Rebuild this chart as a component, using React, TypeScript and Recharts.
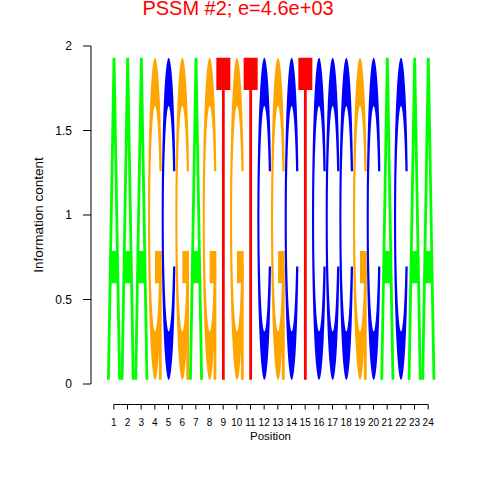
import React from 'react';
import { BarChart, Bar, XAxis, YAxis } from 'recharts';

// sequence logo, one dominant letter per position
const positions = ['1', '2', '3', '4', '5', '6', '7', '8', '9', '10', '11', '12', '13', '14', '15', '16', '17', '18', '19', '20', '21', '22', '23', '24'];
const letters = ['A', 'A', 'A', 'G', 'C', 'G', 'A', 'G', 'T', 'G', 'T', 'C', 'G', 'C', 'T', 'C', 'C', 'C', 'G', 'C', 'A', 'C', 'A', 'A'];
const letterTop = [1.93, 1.93, 1.93, 1.93, 1.93, 1.93, 1.93, 1.93, 1.93, 1.93, 1.93, 1.93, 1.93, 1.93, 1.93, 1.93, 1.93, 1.93, 1.93, 1.93, 1.93, 1.93, 1.93, 1.93];
const letterBase = [0.025, 0.025, 0.025, 0.025, 0.025, 0.025, 0.025, 0.025, 0.025, 0.025, 0.025, 0.025, 0.025, 0.025, 0.025, 0.025, 0.025, 0.025, 0.025, 0.025, 0.025, 0.025, 0.025, 0.025];
const yTicks = [0, 0.5, 1, 1.5, 2];

const FONT = '"Liberation Sans", Arial, Helvetica, sans-serif';
const W = 480;
const H = 480;
const Y_AXIS_W = 91;
const MARGIN_R = 30;
const PAD_L = 16;
const PAD_R = 15;
const BAND = (W - Y_AXIS_W - MARGIN_R - PAD_L - PAD_R) / positions.length;

const letterColors: Record<string, string> = { A: '#00ff00', C: '#0000ff', G: '#ffa500', T: '#ff0000' };

// glyphs in a unit box (y down), after seqLogo's polygons
const C_PATH = 'M0.978 0.352 A0.5 0.5 0 1 0 0.978 0.648 L0.817 0.648 A0.35 0.35 0 1 1 0.817 0.352 Z';
const glyphs: Record<string, string[]> = {
  A: ['M0 1 L0.4 0 L0.6 0 L1 1 L0.8 1 L0.68 0.7 L0.32 0.7 L0.2 1 Z M0.36 0.6 L0.5 0.25 L0.64 0.6 Z'],
  C: [C_PATH],
  G: [C_PATH, 'M0.978 0.6 L0.5 0.6 L0.5 0.7 L0.778 0.7 L0.778 1 L0.978 1 Z'],
  T: ['M0 0 L1 0 L1 0.1 L0.6 0.1 L0.6 1 L0.4 1 L0.4 0.1 L0 0.1 Z'],
};

const data = positions.map((p, i) => ({ pos: p, letter: letters[i], ic: [letterBase[i], letterTop[i]] }));

function LetterShape(props: any) {
    const { x, y, width, height, payload } = props;
    if (!payload || !width) return null;
    const top = height < 0 ? y + height : y;
    const h = Math.abs(height);
    const fill = letterColors[payload.letter];
    return (
        <g transform={`translate(${x},${top}) scale(${width},${h})`}>
            {glyphs[payload.letter].map((d, i) => <path key={i} d={d} fill={fill} fillRule="evenodd" />)}
        </g>
    );
}

function PosTick(props: any) {
    const { x, y, payload } = props;
    const idx = positions.indexOf(String(payload.value));
    const x1 = idx === 0 ? x : x - BAND / 2;
    const x2 = idx === positions.length - 1 ? x : x + BAND / 2;
    const ly = y + 20.5;
    return (
        <g>
            <line x1={x1} y1={ly} x2={x2} y2={ly} stroke="#000" strokeWidth={1} />
            <line x1={x} y1={ly} x2={x} y2={ly + 5} stroke="#000" strokeWidth={1} />
            <text x={x} y={y + 42} textAnchor="middle" fontSize={10} fontFamily={FONT} fill="#000">{payload.value}</text>
        </g>
    );
}

export default function App() {
    return (
        <div style={{ position: 'absolute', left: 0, top: 0, width: W, height: H, background: '#fff' }}>
            <div style={{ position: 'absolute', left: 0, top: 0, width: 476, textAlign: 'center', fontFamily: FONT, fontSize: 20, lineHeight: '16px', color: '#ff0000' }}>
                PSSM #2; e=4.6e+03
            </div>
            <BarChart width={W} height={H} data={data} margin={{ top: 46, right: MARGIN_R, bottom: 0, left: 0 }} barCategoryGap={0} barGap={0}>
                <XAxis
                    dataKey="pos"
                    type="category"
                    height={96}
                    padding={{ left: PAD_L, right: PAD_R }}
                    axisLine={false}
                    tickLine={false}
                    tickSize={0}
                    tickMargin={0}
                    interval={0}
                    tick={<PosTick />}
                    label={{ value: 'Position', position: 'insideBottom', offset: 40, style: { fontSize: 11.5, fontFamily: FONT, fill: '#000' } }}
                />
                <YAxis
                    type="number"
                    domain={[0, 2]}
                    ticks={yTicks}
                    width={Y_AXIS_W}
                    tickSize={8}
                    tickMargin={11}
                    axisLine={{ stroke: '#000' }}
                    tickLine={{ stroke: '#000' }}
                    tick={{ fill: '#000', fontSize: 12, fontFamily: FONT }}
                    tickFormatter={(v: number) => String(v)}
                    label={{ value: 'Information content', angle: -90, position: 'insideLeft', offset: 38, style: { textAnchor: 'middle', fontSize: 13.5, fontFamily: FONT, fill: '#000' } }}
                />
                <Bar dataKey="ic" shape={<LetterShape />} isAnimationActive={false} />
            </BarChart>
        </div>
    );
}
